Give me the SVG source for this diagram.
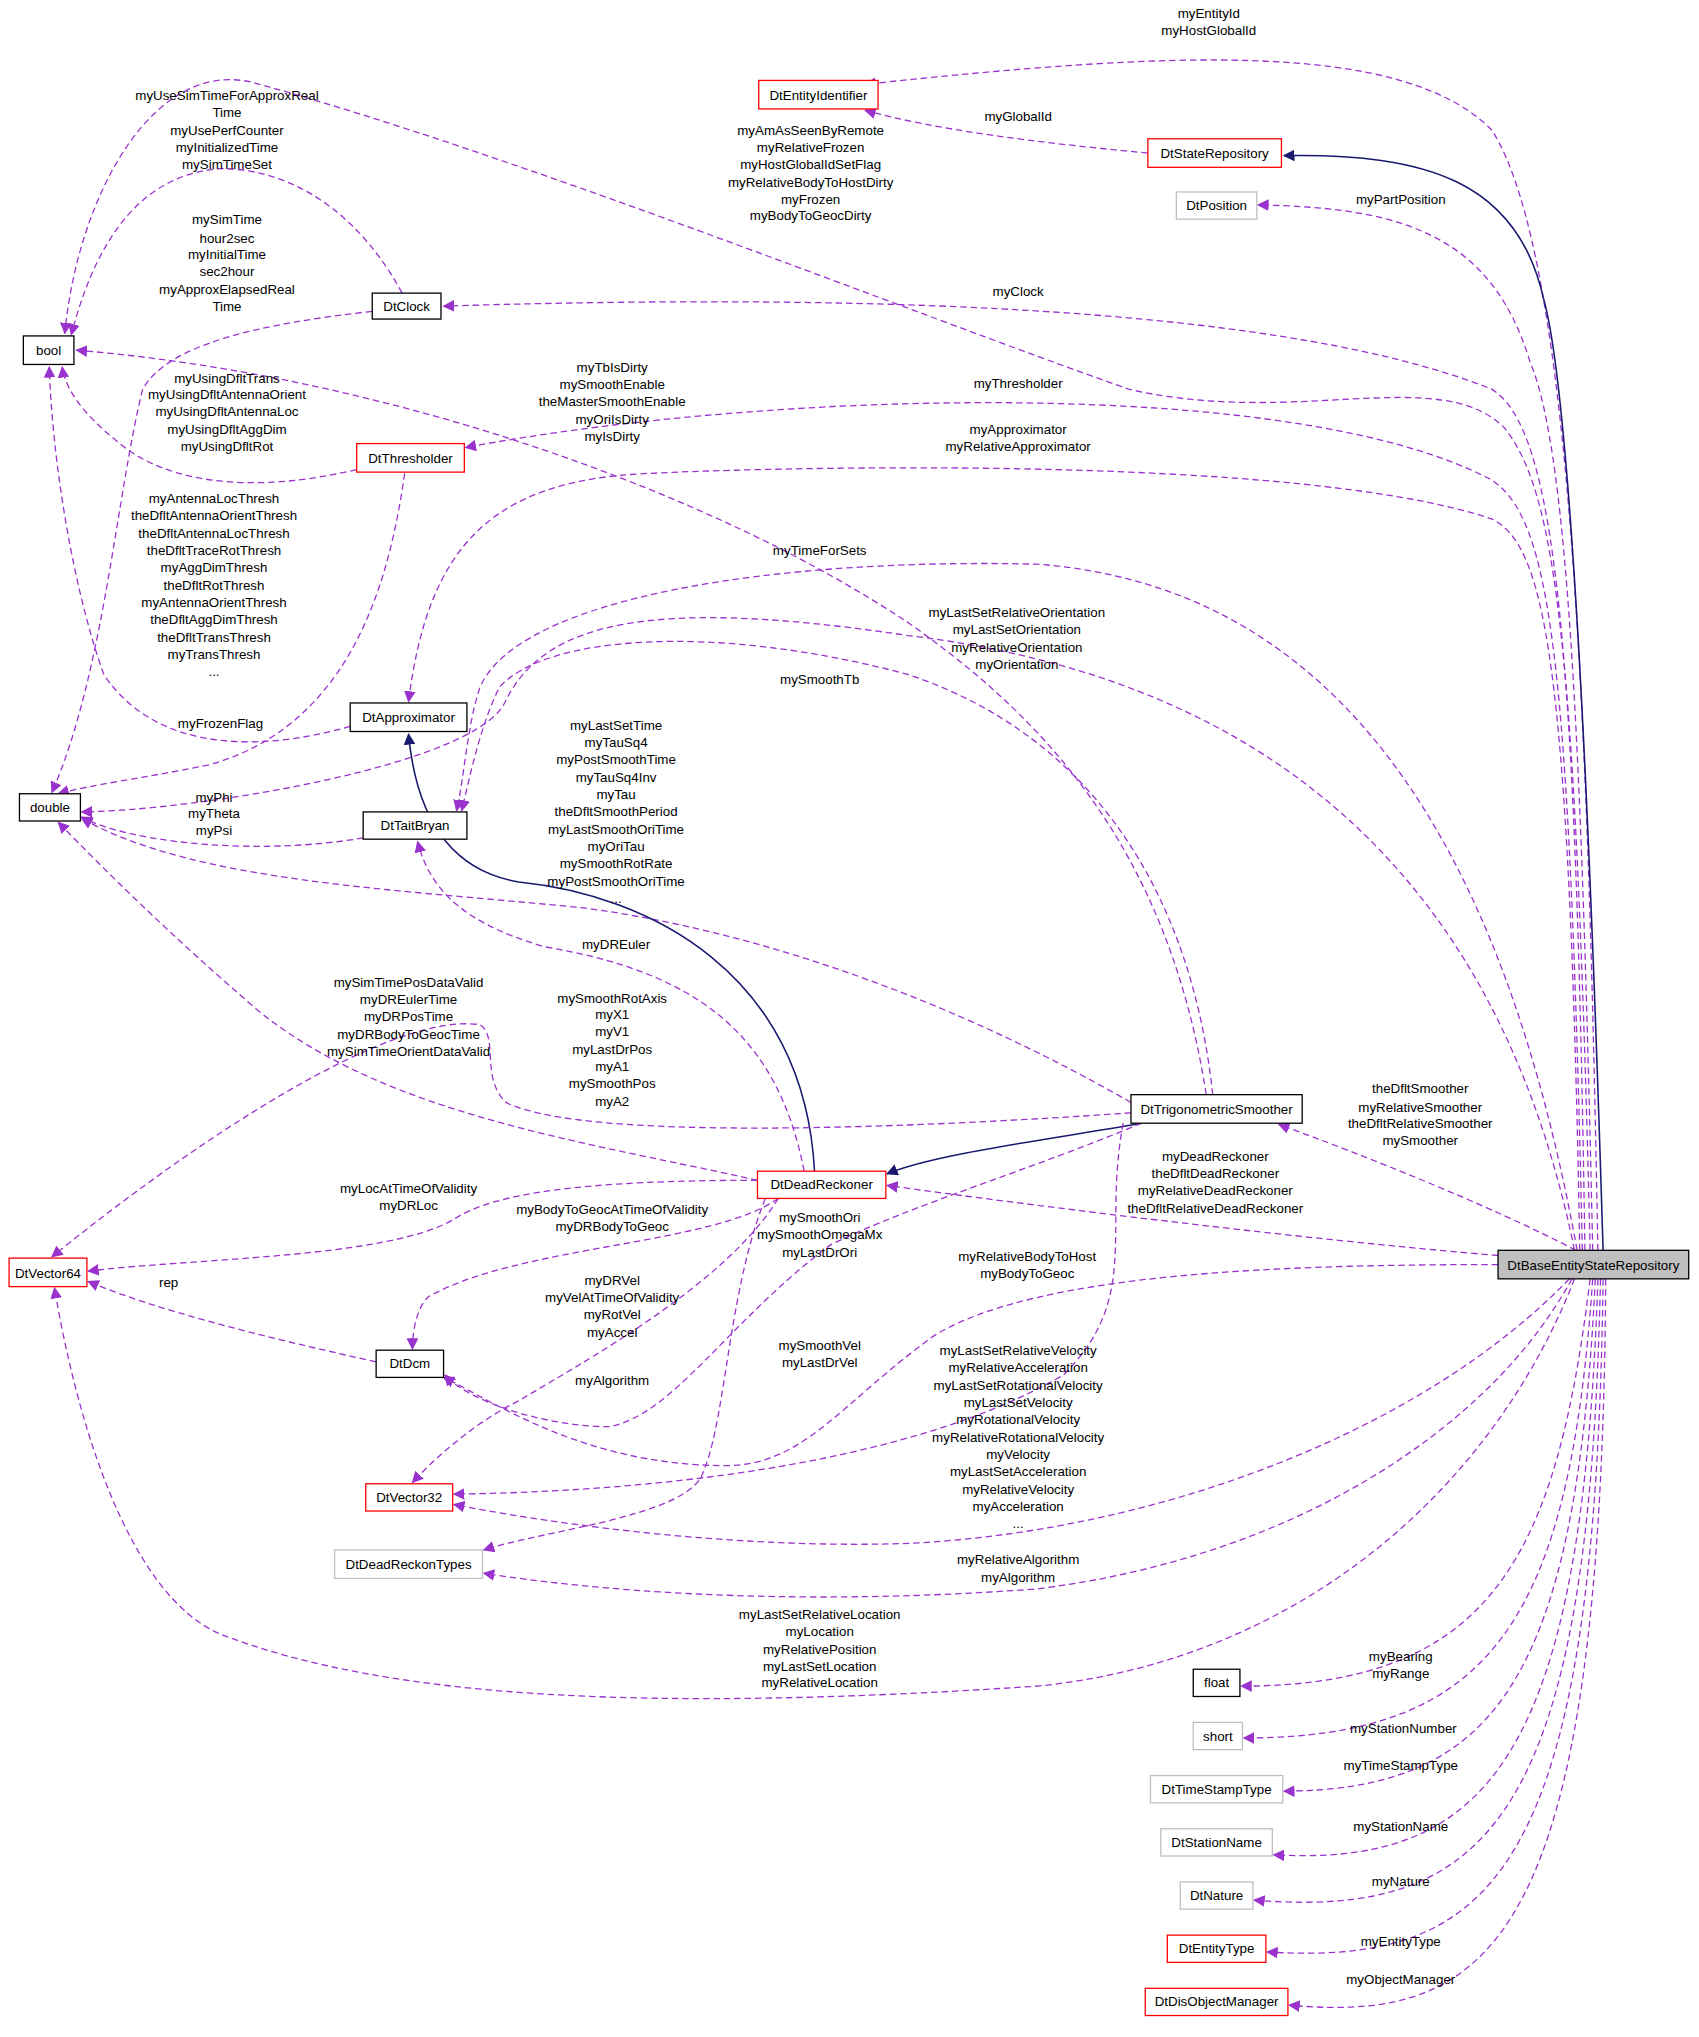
<svg xmlns="http://www.w3.org/2000/svg" width="1699" height="2037" viewBox="0 0 1699 2037">
<style>
text{font-family:"Liberation Sans",Arial,sans-serif;font-size:10.3px;text-anchor:middle;fill:#000}
.n rect{fill:#fff;stroke:#000;stroke-width:1}
.r rect{stroke:#ff0000}
.g rect{stroke:#bfbfbf}
.e{fill:none;stroke:#9a32cd;stroke-width:1;stroke-dasharray:5,3;marker-end:url(#ap)}
.i{fill:none;stroke:#191970;stroke-width:1.2;marker-end:url(#an)}
</style>
<defs>
<marker id="ap" viewBox="0 0 10 10" refX="9" refY="5" markerWidth="9" markerHeight="9" orient="auto" markerUnits="userSpaceOnUse"><path d="M0,0L10,5L0,10z" fill="#9a32cd"/></marker>
<marker id="an" viewBox="0 0 10 10" refX="9" refY="5" markerWidth="9" markerHeight="9" orient="auto" markerUnits="userSpaceOnUse"><path d="M0,0L10,5L0,10z" fill="#191970"/></marker>
</defs>
<rect width="1699" height="2037" fill="#fff"/>
<g transform="scale(1.297)">
<g id="connectors">
<path class="e" d="M1232,964 C1225,600 1215,200 1150,100 C1080,30 900,40 667,65"/>
<path class="e" d="M885,118 C800,110 720,100 667,85"/>
<path class="i" d="M1236,964 C1225,600 1210,300 1190,230 C1170,140 1100,118 990,120"/>
<path class="e" d="M1228,964 C1220,600 1210,350 1180,280 C1150,180 1080,160 970,158"/>
<path class="e" d="M1226,964 C1215,500 1200,380 1160,330 C1110,280 1000,330 870,300 C700,240 400,120 200,65 C120,40 60,150 50,257"/>
<path class="e" d="M310,226 C280,170 230,130 170,130 C100,135 70,200 55,258"/>
<path class="e" d="M1222,964 C1215,500 1200,330 1150,300 C1000,240 700,225 342,236"/>
<path class="e" d="M287,240 C200,250 130,265 110,300 C90,380 80,520 40,611"/>
<path class="e" d="M275,362 C200,380 130,375 90,340 C65,320 50,300 48,283"/>
<path class="e" d="M1220,964 C1210,500 1195,400 1150,370 C1000,290 600,300 359,345"/>
<path class="e" d="M312,365 C300,450 270,560 160,590 C110,600 70,605 45,612"/>
<path class="e" d="M1218,964 C1210,500 1190,420 1150,400 C1000,350 600,360 500,365 C380,370 330,420 315,541"/>
<path class="e" d="M270,560 C200,580 120,580 80,520 C55,450 40,350 38,283"/>
<path class="e" d="M930,844 C900,650 800,550 700,480 C550,380 300,290 59,270"/>
<path class="e" d="M1216,964 C1150,600 1000,450 800,435 C600,430 400,460 370,530 C360,560 358,600 352,625"/>
<path class="e" d="M1214,964 C1150,650 950,520 700,490 C500,460 420,480 390,540 C370,590 150,625 63,626"/>
<path class="e" d="M935,844 C920,700 850,570 700,520 C550,480 420,490 385,530 C370,560 362,600 356,625"/>
<path class="e" d="M280,646 C200,660 100,650 63,630"/>
<path class="e" d="M872,850 C750,780 600,720 450,700 C300,685 150,680 63,631"/>
<path class="e" d="M620,903 C600,800 540,750 420,730 C350,710 330,680 322,649"/>
<path class="i" d="M628,903 C620,750 500,690 400,680 C340,670 320,620 315,566"/>
<path class="i" d="M880,866 C800,880 720,890 684,905"/>
<path class="e" d="M584,910 C450,880 300,860 200,780 C130,720 80,670 45,634"/>
<path class="e" d="M872,858 C700,870 450,880 390,850 C370,830 385,800 370,790 C300,780 150,880 40,969"/>
<path class="e" d="M1215,964 C1150,930 1050,890 986,867"/>
<path class="e" d="M1155,968 C1000,955 800,930 684,914"/>
<path class="e" d="M584,910 C450,910 380,920 350,940 C300,970 150,970 68,980"/>
<path class="e" d="M600,924 C550,960 400,960 330,1000 C320,1010 318,1030 318,1040"/>
<path class="e" d="M600,924 C560,990 450,1050 400,1080 C360,1100 330,1130 318,1143"/>
<path class="e" d="M590,924 C560,1000 560,1100 540,1140 C520,1170 420,1180 373,1195"/>
<path class="e" d="M880,866 C800,900 700,930 640,960 C560,1020 520,1090 470,1100 C420,1100 360,1080 343,1060"/>
<path class="e" d="M866,866 C850,950 880,1000 820,1060 C700,1130 500,1150 350,1152"/>
<path class="e" d="M1155,975 C1000,975 800,980 720,1030 C650,1080 620,1130 560,1130 C450,1130 380,1080 342,1062"/>
<path class="e" d="M1210,986 C1100,1100 900,1180 700,1190 C550,1195 400,1170 350,1160"/>
<path class="e" d="M1212,986 C1150,1100 1000,1200 800,1225 C600,1240 450,1225 373,1213"/>
<path class="e" d="M1214,986 C1150,1150 1000,1280 800,1300 C500,1320 300,1310 170,1260 C100,1230 60,1100 42,993"/>
<path class="e" d="M290,1050 C200,1030 120,1010 68,988"/>
<path class="e" d="M1226,986 C1200,1200 1150,1300 957,1300"/>
<path class="e" d="M1228,986 C1210,1250 1150,1340 959,1340"/>
<path class="e" d="M1230,986 C1215,1300 1150,1380 990,1381"/>
<path class="e" d="M1232,986 C1220,1350 1150,1440 982,1430"/>
<path class="e" d="M1234,986 C1225,1400 1150,1480 967,1465"/>
<path class="e" d="M1236,986 C1230,1450 1150,1515 977,1505"/>
<path class="e" d="M1238,986 C1235,1500 1150,1560 994,1546"/>
</g>
<g id="labels">
<text x="932" y="14">myEntityId</text><text x="932" y="27">myHostGlobalId</text>
<text x="785" y="93">myGlobalId</text>
<text x="1080" y="157">myPartPosition</text>
<text x="625" y="104">myAmAsSeenByRemote</text><text x="625" y="117">myRelativeFrozen</text><text x="625" y="130">myHostGlobalIdSetFlag</text><text x="625" y="144">myRelativeBodyToHostDirty</text><text x="625" y="157">myFrozen</text><text x="625" y="170">myBodyToGeocDirty</text>
<text x="175" y="77">myUseSimTimeForApproxReal</text><text x="175" y="90">Time</text><text x="175" y="104">myUsePerfCounter</text><text x="175" y="117">myInitializedTime</text><text x="175" y="130">mySimTimeSet</text>
<text x="785" y="228">myClock</text>
<text x="175" y="173">mySimTime</text><text x="175" y="187">hour2sec</text><text x="175" y="200">myInitialTime</text><text x="175" y="213">sec2hour</text><text x="175" y="227">myApproxElapsedReal</text><text x="175" y="240">Time</text>
<text x="175" y="295">myUsingDfltTrans</text><text x="175" y="308">myUsingDfltAntennaOrient</text><text x="175" y="321">myUsingDfltAntennaLoc</text><text x="175" y="335">myUsingDfltAggDim</text><text x="175" y="348">myUsingDfltRot</text>
<text x="785" y="299">myThresholder</text>
<text x="472" y="287">myTbIsDirty</text><text x="472" y="300">mySmoothEnable</text><text x="472" y="313">theMasterSmoothEnable</text><text x="472" y="327">myOriIsDirty</text><text x="472" y="340">myIsDirty</text>
<text x="785" y="335">myApproximator</text><text x="785" y="348">myRelativeApproximator</text>
<text x="165" y="388">myAntennaLocThresh</text><text x="165" y="401">theDfltAntennaOrientThresh</text><text x="165" y="415">theDfltAntennaLocThresh</text><text x="165" y="428">theDfltTraceRotThresh</text><text x="165" y="441">myAggDimThresh</text><text x="165" y="455">theDfltRotThresh</text><text x="165" y="468">myAntennaOrientThresh</text><text x="165" y="481">theDfltAggDimThresh</text><text x="165" y="495">theDfltTransThresh</text><text x="165" y="508">myTransThresh</text><text x="165" y="521">...</text>
<text x="632" y="428">myTimeForSets</text>
<text x="784" y="476">myLastSetRelativeOrientation</text><text x="784" y="489">myLastSetOrientation</text><text x="784" y="503">myRelativeOrientation</text><text x="784" y="516">myOrientation</text>
<text x="632" y="527">mySmoothTb</text>
<text x="170" y="561">myFrozenFlag</text>
<text x="475" y="563">myLastSetTime</text><text x="475" y="576">myTauSq4</text><text x="475" y="589">myPostSmoothTime</text><text x="475" y="603">myTauSq4Inv</text><text x="475" y="616">myTau</text><text x="475" y="629">theDfltSmoothPeriod</text><text x="475" y="643">myLastSmoothOriTime</text><text x="475" y="656">myOriTau</text><text x="475" y="669">mySmoothRotRate</text><text x="475" y="683">myPostSmoothOriTime</text><text x="475" y="696">...</text>
<text x="165" y="618">myPhi</text><text x="165" y="631">myTheta</text><text x="165" y="644">myPsi</text>
<text x="475" y="732">myDREuler</text>
<text x="315" y="761">mySimTimePosDataValid</text><text x="315" y="774">myDREulerTime</text><text x="315" y="787">myDRPosTime</text><text x="315" y="801">myDRBodyToGeocTime</text><text x="315" y="814">mySimTimeOrientDataValid</text>
<text x="472" y="773">mySmoothRotAxis</text><text x="472" y="786">myX1</text><text x="472" y="799">myV1</text><text x="472" y="813">myLastDrPos</text><text x="472" y="826">myA1</text><text x="472" y="839">mySmoothPos</text><text x="472" y="853">myA2</text>
<text x="1095" y="843">theDfltSmoother</text><text x="1095" y="857">myRelativeSmoother</text><text x="1095" y="870">theDfltRelativeSmoother</text><text x="1095" y="883">mySmoother</text>
<text x="937" y="895">myDeadReckoner</text><text x="937" y="908">theDfltDeadReckoner</text><text x="937" y="921">myRelativeDeadReckoner</text><text x="937" y="935">theDfltRelativeDeadReckoner</text>
<text x="315" y="920">myLocAtTimeOfValidity</text><text x="315" y="933">myDRLoc</text>
<text x="472" y="936">myBodyToGeocAtTimeOfValidity</text><text x="472" y="949">myDRBodyToGeoc</text>
<text x="632" y="942">mySmoothOri</text><text x="632" y="955">mySmoothOmegaMx</text><text x="632" y="969">myLastDrOri</text>
<text x="792" y="972">myRelativeBodyToHost</text><text x="792" y="985">myBodyToGeoc</text>
<text x="130" y="992">rep</text>
<text x="472" y="991">myDRVel</text><text x="472" y="1004">myVelAtTimeOfValidity</text><text x="472" y="1017">myRotVel</text><text x="472" y="1031">myAccel</text>
<text x="632" y="1041">mySmoothVel</text><text x="632" y="1054">myLastDrVel</text>
<text x="472" y="1068">myAlgorithm</text>
<text x="785" y="1045">myLastSetRelativeVelocity</text><text x="785" y="1058">myRelativeAcceleration</text><text x="785" y="1072">myLastSetRotationalVelocity</text><text x="785" y="1085">myLastSetVelocity</text><text x="785" y="1098">myRotationalVelocity</text><text x="785" y="1112">myRelativeRotationalVelocity</text><text x="785" y="1125">myVelocity</text><text x="785" y="1138">myLastSetAcceleration</text><text x="785" y="1152">myRelativeVelocity</text><text x="785" y="1165">myAcceleration</text><text x="785" y="1178">...</text>
<text x="785" y="1206">myRelativeAlgorithm</text><text x="785" y="1220">myAlgorithm</text>
<text x="632" y="1248">myLastSetRelativeLocation</text><text x="632" y="1261">myLocation</text><text x="632" y="1275">myRelativePosition</text><text x="632" y="1288">myLastSetLocation</text><text x="632" y="1301">myRelativeLocation</text>
<text x="1080" y="1281">myBearing</text><text x="1080" y="1294">myRange</text>
<text x="1082" y="1336">myStationNumber</text>
<text x="1080" y="1365">myTimeStampType</text>
<text x="1080" y="1412">myStationName</text>
<text x="1080" y="1454">myNature</text>
<text x="1080" y="1500">myEntityType</text>
<text x="1080" y="1530">myObjectManager</text>
</g>
<g id="DtBaseEntityStateRepository" class="n"><rect x="1155" y="964" width="147" height="22" style="fill:#bfbfbf"/><text x="1228.5" y="979">DtBaseEntityStateRepository</text></g>
<g id="DtEntityIdentifier" class="n r"><rect x="585" y="62" width="92" height="22"/><text x="631" y="77">DtEntityIdentifier</text></g>
<g id="DtStateRepository" class="n r"><rect x="885" y="107" width="103" height="22"/><text x="936.5" y="122">DtStateRepository</text></g>
<g id="DtPosition" class="n g"><rect x="907" y="148" width="62" height="21"/><text x="938" y="162">DtPosition</text></g>
<g id="bool" class="n"><rect x="18" y="259" width="39" height="22"/><text x="37.5" y="274">bool</text></g>
<g id="DtClock" class="n"><rect x="287" y="226" width="53" height="20"/><text x="313.5" y="240">DtClock</text></g>
<g id="DtThresholder" class="n r"><rect x="275" y="342" width="83" height="22"/><text x="316.5" y="357">DtThresholder</text></g>
<g id="DtApproximator" class="n"><rect x="270" y="542" width="90" height="22"/><text x="315" y="557">DtApproximator</text></g>
<g id="double" class="n"><rect x="15" y="612" width="47" height="21"/><text x="38.5" y="626">double</text></g>
<g id="DtTaitBryan" class="n"><rect x="280" y="626" width="80" height="21"/><text x="320" y="640">DtTaitBryan</text></g>
<g id="DtTrigonometricSmoother" class="n"><rect x="872" y="844" width="132" height="22"/><text x="938" y="859">DtTrigonometricSmoother</text></g>
<g id="DtDeadReckoner" class="n r"><rect x="584" y="903" width="99" height="21"/><text x="633.5" y="917">DtDeadReckoner</text></g>
<g id="DtVector64" class="n r"><rect x="7" y="970" width="60" height="22"/><text x="37" y="985">DtVector64</text></g>
<g id="DtDcm" class="n"><rect x="290" y="1041" width="52" height="21"/><text x="316" y="1055">DtDcm</text></g>
<g id="DtVector32" class="n r"><rect x="282" y="1144" width="67" height="21"/><text x="315.5" y="1158">DtVector32</text></g>
<g id="DtDeadReckonTypes" class="n g"><rect x="258" y="1195" width="114" height="22"/><text x="315" y="1210">DtDeadReckonTypes</text></g>
<g id="float" class="n"><rect x="920" y="1287" width="36" height="21"/><text x="938" y="1301">float</text></g>
<g id="short" class="n g"><rect x="920" y="1328" width="38" height="21"/><text x="939" y="1342">short</text></g>
<g id="DtTimeStampType" class="n g"><rect x="887" y="1369" width="102" height="21"/><text x="938" y="1383">DtTimeStampType</text></g>
<g id="DtStationName" class="n g"><rect x="895" y="1410" width="86" height="21"/><text x="938" y="1424">DtStationName</text></g>
<g id="DtNature" class="n g"><rect x="910" y="1451" width="56" height="21"/><text x="938" y="1465">DtNature</text></g>
<g id="DtEntityType" class="n r"><rect x="900" y="1492" width="76" height="21"/><text x="938" y="1506">DtEntityType</text></g>
<g id="DtDisObjectManager" class="n r"><rect x="883" y="1533" width="110" height="21"/><text x="938" y="1547">DtDisObjectManager</text></g>
</g>
</svg>
